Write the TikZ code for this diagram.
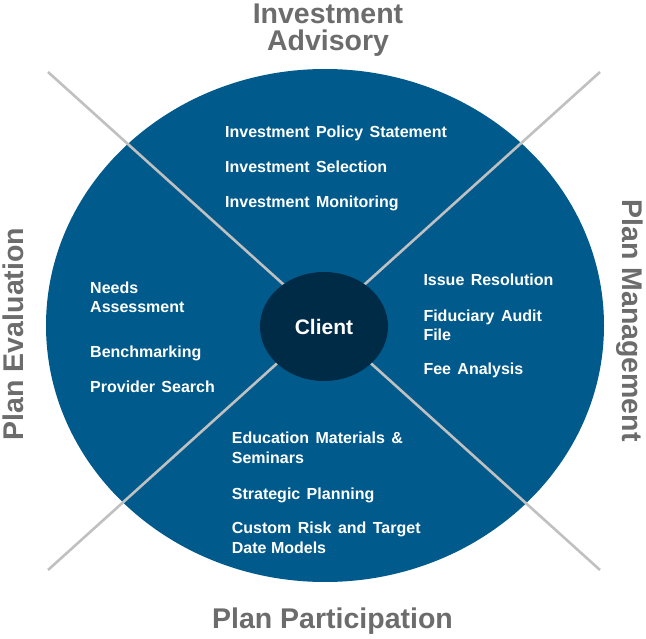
\documentclass[tikz,border=0pt]{standalone}
\usepackage{fontspec}
\setmainfont{Liberation Sans}
\usepackage{xcolor}
\usepackage{tikz}
\usetikzlibrary{shapes,positioning,calc}

\definecolor{planblue}{RGB}{0,91,140}
\definecolor{clientblue}{RGB}{0,43,71}
\definecolor{crossgray}{RGB}{192,192,192}
\definecolor{labelgray}{RGB}{108,108,108}

\newcommand{\widewords}{\spaceskip=0.4em\relax}

\begin{document}
\begin{tikzpicture}[
    x=1pt, y=-1pt,
    wheel/.style={ellipse, fill=planblue, minimum width=558pt, minimum height=513pt, inner sep=0pt},
    hub/.style={ellipse, fill=clientblue, minimum width=128pt, minimum height=109pt, inner sep=0pt, text=white, font=\fontsize{21}{24}\selectfont\bfseries},
    cross/.style={draw=crossgray, line width=2.6pt},
    service/.style={anchor=base west, inner sep=0pt, align=left, text=white, font=\fontsize{16}{19.5}\selectfont\bfseries},
    area/.style={anchor=base, inner sep=0pt, align=center, text=labelgray, font=\fontsize{28.5}{27.5}\selectfont\bfseries},
]
\useasboundingbox (0,0) rectangle (646,639);

% Outer wheel
\node[wheel] (plan) at (325,325.5) {};

% Cross lines
\coordinate (tl) at (48,72);
\coordinate (tr) at (600,72);
\coordinate (bl) at (48,570);
\coordinate (br) at (600,570);
\draw[cross] (tl) -- (br);
\draw[cross] (tr) -- (bl);

% Client hub
\node[hub] (client) at (324,326.5) {Client};

% Area labels (base = last line)
\node[area] (advisory) at (328,51) {Investment\\Advisory};
\node[area] (participation) at (332.5,628) {Plan Participation};
\node[area, rotate=90] (evaluation) at (23.5,334) {Plan Evaluation};
\node[area, rotate=-90] (management) at (622.5,320.5) {Plan Management};

% Investment Advisory services
\node[service] (ips) at (225,137.7) {\widewords Investment Policy Statement};
\node[service] (sel) at (225,172.7) {\widewords Investment Selection};
\node[service] (mon) at (225,207.7) {\widewords Investment Monitoring};

% Plan Evaluation services
\node[service] (needs) at (90,312.7) {\widewords Needs\\Assessment};
\node[service] (bench) at (90,357.7) {\widewords Benchmarking};
\node[service] (search) at (90,392.7) {\widewords Provider Search};

% Plan Management services
\node[service] (issue) at (423.3,286) {\widewords Issue Resolution};
\node[service] (audit) at (423.3,340.7) {\widewords Fiduciary Audit\\File};
\node[service] (fee) at (423.3,375) {\widewords Fee Analysis};

% Plan Participation services
\node[service] (edu) at (231.7,463.3) {\widewords Education Materials \&\\Seminars};
\node[service] (strat) at (231.7,499.3) {\widewords Strategic Planning};
\node[service] (risk) at (231.7,553) {\widewords Custom Risk and Target\\Date Models};

\end{tikzpicture}
\end{document}
